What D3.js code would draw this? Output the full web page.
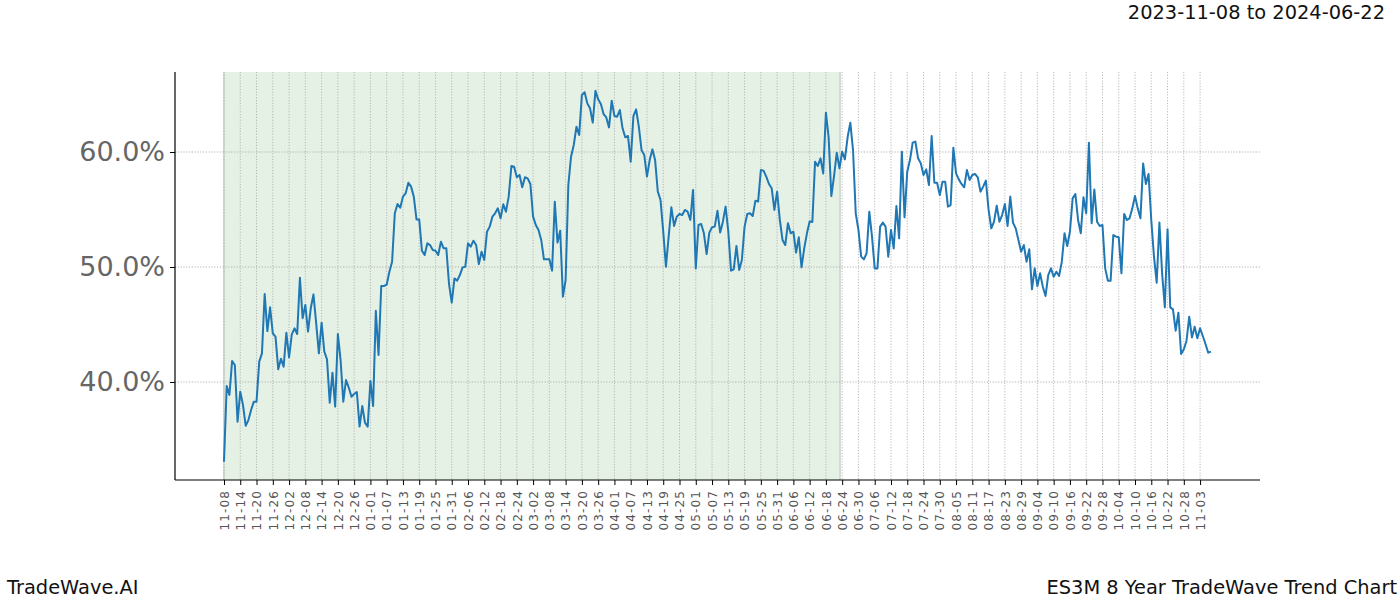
<!DOCTYPE html>
<html>
<head>
<meta charset="utf-8">
<script src="https://cdn.jsdelivr.net/npm/d3@7"></script>
<style>
  html, body { margin: 0; padding: 0; background: #fff; }
  svg { display: block; font-family: "DejaVu Sans", sans-serif; }
</style>
</head>
<body>
<svg id="chart" width="1400" height="600"></svg>
<script>
// ---- data ----
const titleText = "2023-11-08 to 2024-06-22";
const footerLeft = "TradeWave.AI";
const footerRight = "ES3M 8 Year TradeWave Trend Chart";

const tickLabels = ["11-08","11-14","11-20","11-26","12-02","12-08","12-14","12-20","12-26","01-01","01-07","01-13","01-19","01-25","01-31","02-06","02-12","02-18","02-24","03-02","03-08","03-14","03-20","03-26","04-01","04-07","04-13","04-19","04-25","05-01","05-07","05-13","05-19","05-25","05-31","06-06","06-12","06-18","06-24","06-30","07-06","07-12","07-18","07-24","07-30","08-05","08-11","08-17","08-23","08-29","09-04","09-10","09-16","09-22","09-28","10-04","10-10","10-16","10-22","10-28","11-03"];
const tickStep = 6;            // one label every 6 points
const yTicks = [40, 50, 60];   // percent
const shadeStart = 0;          // point index where training window starts
const shadeEnd = 227.2;        // point index where it ends (2024-06-22)

const values = [
33.07,39.65,38.87,41.83,41.48,36.55,39.16,38.0,36.2,36.69,
37.57,38.29,38.29,41.77,42.49,47.65,44.43,46.49,44.23,43.94,
41.1,42.03,41.33,44.29,42.14,44.14,44.67,44.17,49.07,45.54,
46.7,44.38,46.41,47.62,45.1,42.49,45.16,42.64,41.97,38.2,
40.81,37.86,44.17,41.91,38.29,40.17,39.54,38.72,38.96,39.13,
36.12,37.91,36.46,36.12,40.09,37.91,46.2,42.35,48.35,48.35,
48.46,49.59,50.46,54.67,55.48,55.16,56.12,56.41,57.33,56.99,
56.12,54.14,54.14,51.42,51.04,52.06,51.91,51.48,51.42,51.04,
52.2,51.62,51.62,48.52,46.9,49.01,48.81,49.3,49.97,50.03,
52.06,51.77,52.29,51.91,50.26,51.33,50.61,53.07,53.51,54.38,
54.67,55.1,54.23,55.45,54.81,56.12,58.78,58.72,57.8,58.0,
56.93,57.8,57.71,57.22,54.38,53.65,53.22,52.35,50.67,50.67,
50.67,49.68,55.68,52.12,53.16,47.42,48.87,57.13,59.59,60.61,
62.2,61.48,64.96,65.19,64.23,63.8,62.55,65.33,64.58,64.17,
63.3,63.01,62.14,64.46,63.13,63.07,63.65,62.06,61.28,61.39,
59.16,63.13,63.71,62.2,60.17,59.74,57.86,59.3,60.23,59.3,
56.55,55.83,53.07,50.03,52.64,55.19,53.57,54.38,54.61,54.52,
54.96,54.81,54.09,56.7,49.88,53.65,53.74,52.93,51.13,52.99,
53.45,53.51,54.9,52.99,53.94,55.25,53.07,49.68,49.8,51.83,
49.74,50.61,53.51,54.61,54.67,54.43,55.77,55.68,58.43,58.38,
57.86,57.22,56.84,54.96,56.55,54.09,52.35,51.91,53.8,52.93,
53.07,51.25,52.58,49.97,51.62,52.93,53.97,53.91,59.16,58.78,
59.45,58.14,63.42,61.28,56.17,57.91,59.94,58.58,60.03,59.36,
61.28,62.55,60.17,54.67,53.22,50.9,50.67,51.19,54.81,52.64,
49.88,49.88,53.51,53.86,53.51,50.9,53.22,51.62,55.3,52.49,
60.03,54.32,58.29,59.3,60.81,60.9,59.45,59.01,58.0,58.49,
57.13,61.39,57.33,57.33,56.26,57.42,57.42,55.25,55.39,60.38,
58.14,57.62,57.22,56.93,58.43,57.57,58.0,58.09,57.8,56.55,
56.99,57.51,54.96,53.36,53.94,55.33,53.94,54.52,55.48,53.57,
56.12,53.86,53.36,52.35,51.33,51.91,50.46,51.54,48.06,49.88,
48.35,49.45,48.29,47.48,49.3,49.88,49.16,49.59,49.22,50.46,
52.93,51.83,53.07,55.97,56.35,54.09,52.93,56.06,54.67,60.81,
53.8,56.75,53.94,53.57,53.65,49.88,48.81,48.81,52.78,52.64,
52.58,49.45,54.61,54.09,54.23,55.1,56.17,55.1,54.23,59.01,
57.22,58.09,54.09,50.9,48.64,53.86,49.45,46.49,53.28,46.49,
46.32,44.46,46.03,42.43,42.84,43.59,45.68,43.88,44.81,43.8,
44.67,44.0,43.3,42.55,42.64
];

// ---- layout ----
const W = 1400, H = 600;
const plot = { left: 175, right: 1260, top: 72, bottom: 480 };

const svg = d3.select("#chart");

const x = d3.scaleLinear().domain([-18.07, 382.1]).range([plot.left, plot.right]);
const y = d3.scaleLinear().domain([31.478, 66.957]).range([plot.bottom, plot.top]);

// shaded window
svg.append("rect")
  .attr("x", x(shadeStart)).attr("y", plot.top)
  .attr("width", x(shadeEnd) - x(shadeStart)).attr("height", plot.bottom - plot.top)
  .attr("fill", "rgb(230,241,230)");
[shadeStart, shadeEnd].forEach(v => {
  svg.append("line")
    .attr("x1", x(v)).attr("x2", x(v))
    .attr("y1", plot.top).attr("y2", plot.bottom)
    .attr("stroke", "#d3dcd3").attr("stroke-width", 2);
});

// grid
const tickIdx = tickLabels.map((d, i) => i * tickStep);
svg.append("g").selectAll("line").data(tickIdx).join("line")
  .attr("x1", d => x(d)).attr("x2", d => x(d))
  .attr("y1", plot.top).attr("y2", plot.bottom)
  .attr("stroke", "#a8a8a8").attr("stroke-width", 0.8)
  .attr("stroke-dasharray", "1.2,1.6");
svg.append("g").selectAll("line").data(yTicks).join("line")
  .attr("x1", plot.left).attr("x2", plot.right)
  .attr("y1", d => y(d)).attr("y2", d => y(d))
  .attr("stroke", "#a0a0a0").attr("stroke-width", 0.8)
  .attr("stroke-dasharray", "1.2,1.6");

// line
const line = d3.line().x((d, i) => x(i)).y(d => y(d));
svg.append("path").datum(values)
  .attr("d", line)
  .attr("fill", "none")
  .attr("stroke", "#1f77b4")
  .attr("stroke-width", 2)
  .attr("stroke-linejoin", "round");

// x axis
const xAxis = d3.axisBottom(x)
  .tickValues(tickIdx)
  .tickFormat((d, i) => tickLabels[i])
  .tickSize(5).tickSizeOuter(0);
const gx = svg.append("g").attr("transform", `translate(0,${plot.bottom})`).call(xAxis);
gx.select(".domain").attr("stroke", "#000").attr("stroke-width", 1.2)
  .attr("d", `M${plot.left},0H${plot.right}`);
gx.selectAll(".tick line").attr("stroke", "#000").attr("stroke-width", 1);
gx.selectAll(".tick text")
  .attr("font-family", "DejaVu Sans")
  .attr("font-size", 12)
  .attr("letter-spacing", 1.1)
  .attr("fill", "#555")
  .attr("text-anchor", "end")
  .attr("dy", "0.35em")
  .attr("transform", "translate(0,10) rotate(-90)")
  .attr("x", 0).attr("y", 0);

// y axis
const yAxis = d3.axisLeft(y)
  .tickValues(yTicks)
  .tickFormat(d => d.toFixed(1) + "%")
  .tickSize(5).tickSizeOuter(0).tickPadding(5);
const gy = svg.append("g").attr("transform", `translate(${plot.left},0)`).call(yAxis);
gy.select(".domain").attr("stroke", "#000").attr("stroke-width", 1.2)
  .attr("d", `M0,${plot.top}V${plot.bottom}`);
gy.selectAll(".tick line").attr("stroke", "#000");
gy.selectAll(".tick text")
  .attr("font-family", "DejaVu Sans")
  .attr("font-size", 27)
  .attr("fill", "#666");

// texts
svg.append("text").attr("x", 1385).attr("y", 18.5)
  .attr("text-anchor", "end").attr("font-size", 19.4).attr("fill", "#111")
  .text(titleText);
svg.append("text").attr("x", 7).attr("y", 594)
  .attr("text-anchor", "start").attr("font-size", 19.4).attr("fill", "#111")
  .text(footerLeft);
svg.append("text").attr("x", 1397).attr("y", 594)
  .attr("text-anchor", "end").attr("font-size", 19.4).attr("fill", "#111")
  .text(footerRight);
</script>
</body>
</html>
